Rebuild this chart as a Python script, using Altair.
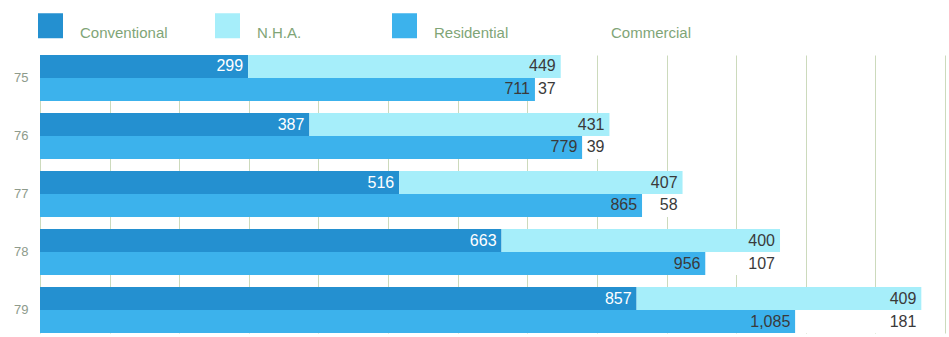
import altair as alt
import pandas as pd

years = ["75", "76", "77", "78", "79"]
conventional = [299, 387, 516, 663, 857]
nha = [449, 431, 407, 400, 409]
residential = [711, 779, 865, 956, 1085]
commercial = [37, 39, 58, 107, 181]

series_names = ["Conventional", "N.H.A.", "Residential", "Commercial"]
series_colors = ["#2490d0", "#a6eefa", "#3cb2ec", "#ffffff"]

rows = []
for i, y in enumerate(years):
    c, n, r, m = conventional[i], nha[i], residential[i], commercial[i]
    rows.append(dict(year=y, bar="a", series="Conventional", start=0, end=c, value=c))
    rows.append(dict(year=y, bar="a", series="N.H.A.", start=c, end=c + n, value=n))
    rows.append(dict(year=y, bar="b", series="Residential", start=0, end=r, value=r))
    rows.append(dict(year=y, bar="b", series="Commercial", start=r, end=r + m, value=m))
df = pd.DataFrame(rows)

x_scale = alt.Scale(domain=[0, 1300], nice=False, zero=True)
y_scale = alt.Scale(paddingInner=0.207, paddingOuter=0)
yo_scale = alt.Scale(paddingInner=0, paddingOuter=0)

base = alt.Chart(df)

bars = base.mark_bar(strokeWidth=0).encode(
    x=alt.X("start:Q", scale=x_scale,
            axis=alt.Axis(values=list(range(0, 1301, 100)), labels=False, ticks=False,
                          domain=False, title=None, grid=True, gridColor="#ccdabc",
                          gridWidth=1)),
    x2="end:Q",
    y=alt.Y("year:N", scale=y_scale,
            axis=alt.Axis(title=None, ticks=False, domain=False, labelPadding=12,
                          labelFontSize=13, labelColor="#8e9b8b", labelFont="Liberation Sans")),
    yOffset=alt.YOffset("bar:N", scale=yo_scale),
    fill=alt.Fill("series:N",
                  scale=alt.Scale(domain=series_names, range=series_colors),
                  sort=series_names,
                  legend=alt.Legend(title=None, orient="none", legendX=-2, legendY=-42,
                                    direction="horizontal", symbolType="square",
                                    symbolSize=625, symbolStrokeWidth=0, symbolOpacity=1,
                                    labelFontSize=15, labelColor="#7fa577",
                                    labelFont="Liberation Sans", labelOffset=17,
                                    labelBaseline="top", columnPadding=47,
                                    gridAlign="all", padding=0)),
)

labels = base.mark_text(align="right", baseline="middle", dx=-5, fontSize=16,
                        font="Liberation Sans").encode(
    x=alt.X("end:Q", scale=x_scale),
    y=alt.Y("year:N", scale=y_scale),
    yOffset=alt.YOffset("bar:N", scale=yo_scale),
    text=alt.Text("value:Q", format=","),
    color=alt.condition(alt.datum.series == "Conventional",
                        alt.value("#ffffff"), alt.value("#3a3a3a")),
)

chart = alt.layer(bars, labels).properties(
    width=905, height=278,
    autosize=alt.AutoSizeParams(type="none"),
    padding={"left": 40, "top": 55, "right": 4, "bottom": 4},
    background="#ffffff",
).configure_view(stroke=None)

chart.save("out.html", embed_options={"renderer": "svg", "actions": False})
